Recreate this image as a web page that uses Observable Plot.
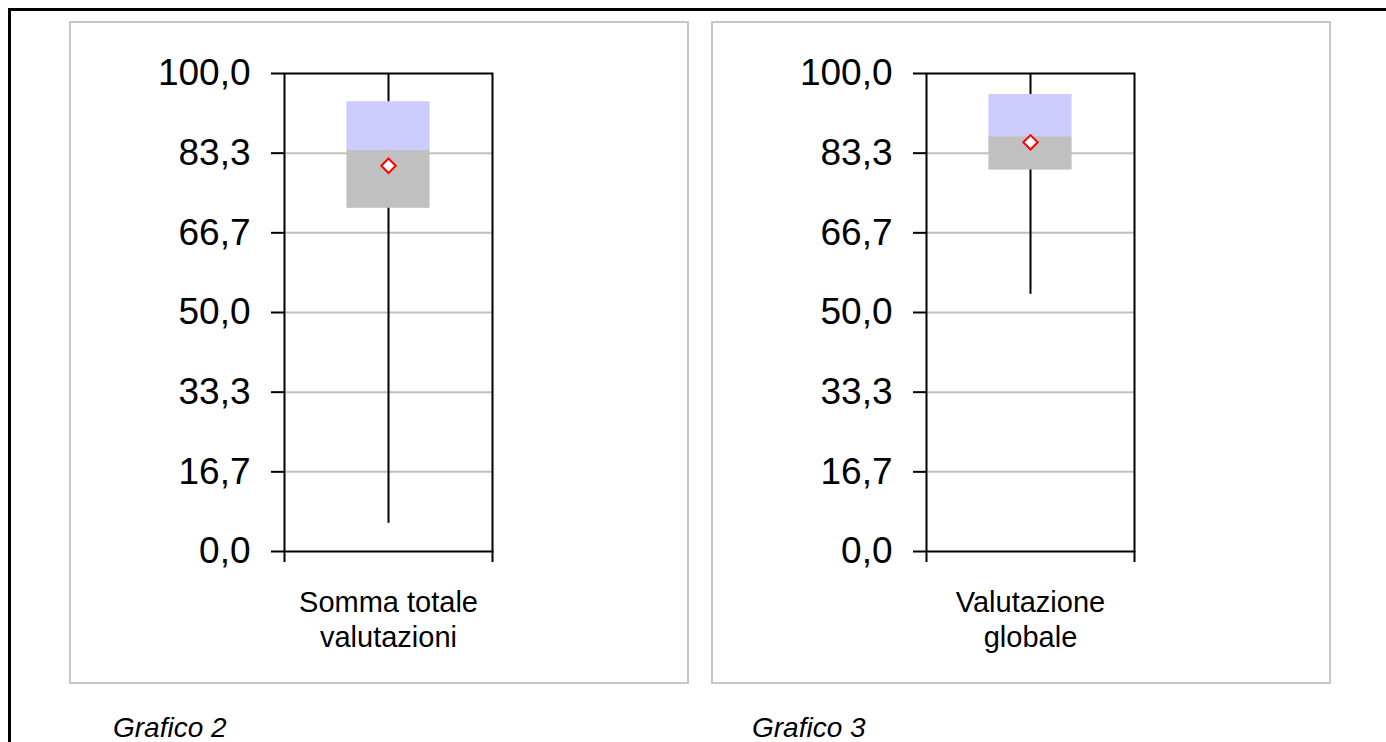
<!DOCTYPE html>
<html>
<head>
<meta charset="utf-8">
<script src="https://cdn.jsdelivr.net/npm/d3@7"></script>
<script src="https://cdn.jsdelivr.net/npm/@observablehq/plot@0.6"></script>
<style>
  html, body { margin: 0; padding: 0; background: #fff; width: 1386px; height: 742px; overflow: hidden; }
  body { position: relative; font-family: "Liberation Sans", Arial, sans-serif; }
  #outer { position: absolute; left: 8px; top: 8px; width: 1420px; height: 800px; border: 3px solid #000; box-sizing: border-box; }
  .panel { position: absolute; top: 21px; width: 620px; height: 663px; border: 2px solid #c6c6c6; box-sizing: border-box; background: #fff; }
  .chart { position: absolute; top: 21px; width: 620px; height: 663px; }
  .caption { position: absolute; top: 712px; font: italic 28px "Liberation Sans", Arial, sans-serif; color: #000; }
</style>
</head>
<body>
<div id="outer"></div>
<div class="panel" style="left:69px"></div>
<div class="panel" style="left:711px"></div>
<div class="chart" id="c1" style="left:69px"></div>
<div class="chart" id="c2" style="left:711px"></div>
<div class="caption" style="left:113px">Grafico 2</div>
<div class="caption" style="left:752px">Grafico 3</div>
<script>
// Data
const categories = ["Somma totale\nvalutazioni", "Valutazione\nglobale"];
const minValues = [5.9, 53.8];
const q1Values = [71.8, 79.8];
const medianValues = [83.9, 86.8];
const q3Values = [94.1, 95.6];
const maxValues = [100.0, 100.0];
const meanValues = [80.7, 85.6];
const yTicks = [0, 100/6, 200/6, 50, 400/6, 500/6, 100];
const yTickLabels = ["0,0", "16,7", "33,3", "50,0", "66,7", "83,3", "100,0"];

function draw(i, el) {
  const d = [{
    cat: categories[i], min: minValues[i], q1: q1Values[i], med: medianValues[i],
    q3: q3Values[i], max: maxValues[i], mean: meanValues[i]
  }];
  const chart = Plot.plot({
    width: 620,
    height: 663,
    marginLeft: 215,
    marginRight: 197,
    marginTop: 52,
    marginBottom: 133,
    style: { fontFamily: "'Liberation Sans', Arial, sans-serif", background: "transparent", overflow: "visible" },
    x: { domain: [0, 1], axis: null },
    y: { domain: [0, 100], axis: null },
    marks: [
      Plot.ruleY(yTicks.slice(1, -1), { stroke: "#c0c0c0", strokeWidth: 2 }),
      Plot.ruleX(d, { x: () => 0.5, y1: "min", y2: "max", stroke: "#000", strokeWidth: 2 }),
      Plot.rect(d, { x1: () => 0.3, x2: () => 0.7, y1: "q1", y2: "med", fill: "#c0c0c0" }),
      Plot.rect(d, { x1: () => 0.3, x2: () => 0.7, y1: "med", y2: "q3", fill: "#ccccff" }),
      Plot.dot(d, { x: () => 0.5, y: "mean", symbol: "diamond2", r: 6.5, fill: "#fff", stroke: "#ff0000", strokeWidth: 2 }),
      Plot.frame({ stroke: "#000", strokeWidth: 2 }),
      Plot.axisY({
        ticks: yTicks,
        tickFormat: (v, j) => yTickLabels[j],
        tickSize: 13,
        tickPadding: 21,
        fontSize: 37,
        stroke: "#000",
        strokeWidth: 2,
        label: null
      }),
      Plot.axisX({
        ticks: [0, 1],
        tickFormat: () => "",
        tickSize: 11,
        stroke: "#000",
        strokeWidth: 2,
        label: null
      }),
      Plot.text(d, {
        x: () => 0.5, y: () => 0, text: "cat",
        lineAnchor: "top", dy: 35, fontSize: 29, lineHeight: 1.22, fill: "#000"
      })
    ]
  });
  el.appendChild(chart);
}
draw(0, document.getElementById("c1"));
draw(1, document.getElementById("c2"));
</script>
</body>
</html>
